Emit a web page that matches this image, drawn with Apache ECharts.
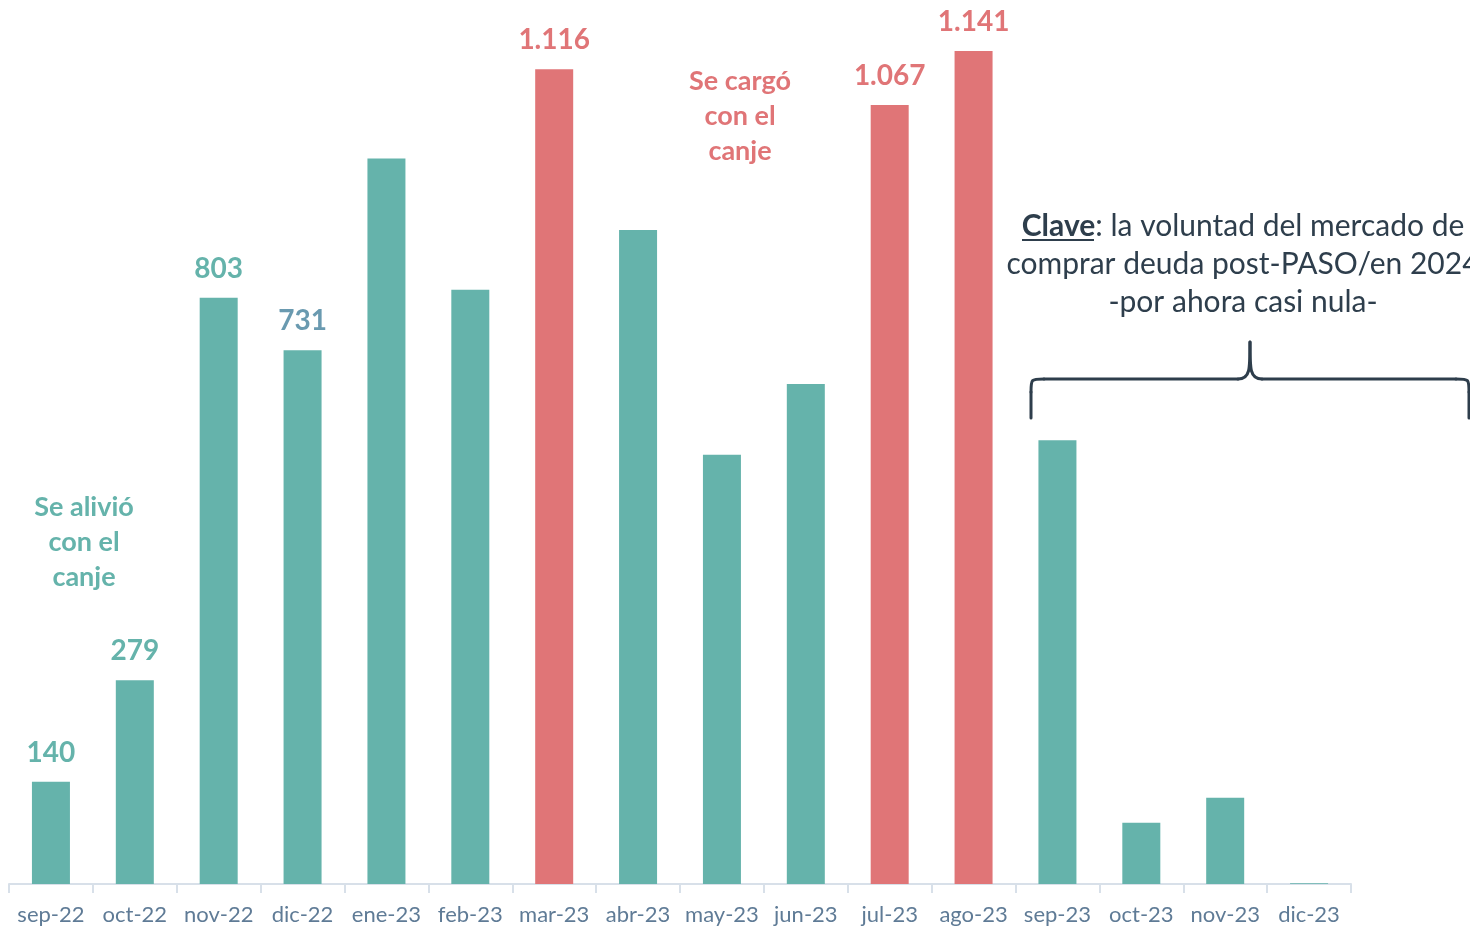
<!DOCTYPE html>
<html>
<head>
<meta charset="utf-8">
<script src="https://cdn.jsdelivr.net/npm/echarts@6/dist/echarts.min.js"></script>
<style>
  html, body { margin: 0; padding: 0; background: #ffffff; }
  #chart { width: 1470px; height: 927px; }
</style>
</head>
<body>
<div id="chart"></div>
<script>
// Monthly debt maturities (sep-22 .. dic-23)
const categories = ['sep-22', 'oct-22', 'nov-22', 'dic-22', 'ene-23', 'feb-23', 'mar-23', 'abr-23',
                    'may-23', 'jun-23', 'jul-23', 'ago-23', 'sep-23', 'oct-23', 'nov-23', 'dic-23'];
const values = [140, 279, 803, 731, 994, 814, 1116, 896, 588, 685, 1067, 1141, 608, 84, 118, 1];
// Months that got heavier after the swap
const heavyMonths = ['mar-23', 'jul-23', 'ago-23'];
// Months whose value is printed above the bar
const labeledMonths = ['sep-22', 'oct-22', 'nov-22', 'dic-22', 'mar-23', 'jul-23', 'ago-23'];

const TEAL = '#65b3ab';
const RED = '#e07577';
const SLATE = '#6a9ab0';
const DARK = '#2e3e4c';
const FONT = 'Lato, "Open Sans", sans-serif';

function fmt(v) {
  return String(v).replace(/\B(?=(\d{3})+(?!\d))/g, '.');
}

const barData = values.map((v, i) => {
  const cat = categories[i];
  const heavy = heavyMonths.includes(cat);
  const color = heavy ? RED : TEAL;
  const item = { value: v, itemStyle: { color: color } };
  if (labeledMonths.includes(cat)) {
    item.label = {
      show: true,
      color: cat === 'dic-22' ? SLATE : color
    };
  }
  return item;
});

// Curly brace over the last months of 2023
const braceStyle = { stroke: DARK, lineWidth: 3, fill: null, lineCap: 'round' };
const brace = [
  { type: 'line', shape: { x1: 1031, y1: 418, x2: 1031, y2: 392 }, style: braceStyle },
  { type: 'bezierCurve', shape: { x1: 1031, y1: 392, cpx1: 1031, cpy1: 379, x2: 1044, y2: 379, cpx2: 1031, cpy2: 379 }, style: braceStyle },
  { type: 'line', shape: { x1: 1044, y1: 379, x2: 1238, y2: 379 }, style: braceStyle },
  { type: 'bezierCurve', shape: { x1: 1238, y1: 379, cpx1: 1250, cpy1: 379, cpx2: 1250, cpy2: 370, x2: 1250, y2: 342 }, style: braceStyle },
  { type: 'bezierCurve', shape: { x1: 1250, y1: 342, cpx1: 1250, cpy1: 370, cpx2: 1250, cpy2: 379, x2: 1262, y2: 379 }, style: braceStyle },
  { type: 'line', shape: { x1: 1262, y1: 379, x2: 1456, y2: 379 }, style: braceStyle },
  { type: 'bezierCurve', shape: { x1: 1456, y1: 379, cpx1: 1469, cpy1: 379, cpx2: 1469, cpy2: 379, x2: 1469, y2: 392 }, style: braceStyle },
  { type: 'line', shape: { x1: 1469, y1: 392, x2: 1469, y2: 418 }, style: braceStyle }
];

const chart = echarts.init(document.getElementById('chart'), null, { renderer: 'canvas' });

chart.setOption({
  animation: false,
  backgroundColor: '#ffffff',
  grid: { left: 9, right: 119, top: 8, bottom: 43, containLabel: false },
  xAxis: {
    type: 'category',
    data: categories,
    boundaryGap: true,
    axisLine: { show: true, lineStyle: { color: '#d8e0e9', width: 2 } },
    axisTick: { show: true, alignWithLabel: false, length: 9, lineStyle: { color: '#d8e0e9', width: 2 } },
    axisLabel: { color: '#5f7b96', fontSize: 22, fontFamily: FONT, margin: 20, interval: 0 }
  },
  yAxis: {
    type: 'value',
    min: 0,
    max: 1200,
    show: false,
    splitLine: { show: false }
  },
  series: [{
    type: 'bar',
    data: barData,
    barWidth: 38,
    label: {
      show: false,
      position: 'top',
      distance: 15,
      fontSize: 28,
      fontWeight: 'bold',
      fontFamily: FONT,
      formatter: p => fmt(p.value)
    }
  }],
  graphic: [
    {
      type: 'text',
      x: 84, y: 490,
      style: {
        text: 'Se alivió\ncon el\ncanje',
        fill: TEAL, font: 'bold 27px ' + FONT,
        align: 'center', lineHeight: 35
      }
    },
    {
      type: 'text',
      x: 740, y: 64,
      style: {
        text: 'Se cargó\ncon el\ncanje',
        fill: RED, font: 'bold 27px ' + FONT,
        align: 'center', lineHeight: 35
      }
    },
    {
      type: 'text',
      x: 1243, y: 207,
      style: {
        text: '{b|Clave}: la voluntad del mercado de\ncomprar deuda post-PASO/en 2024\n-por ahora casi nula-',
        fill: DARK, font: '30px ' + FONT,
        align: 'center', lineHeight: 38,
        rich: {
          b: { fontWeight: 'bold', fontSize: 30, fontFamily: FONT, fill: DARK, lineHeight: 38 }
        }
      }
    },
    {
      type: 'line',
      shape: { x1: 1022, y1: 240, x2: 1094, y2: 240 },
      style: { stroke: DARK, lineWidth: 2 }
    }
  ].concat(brace)
});
</script>
</body>
</html>
